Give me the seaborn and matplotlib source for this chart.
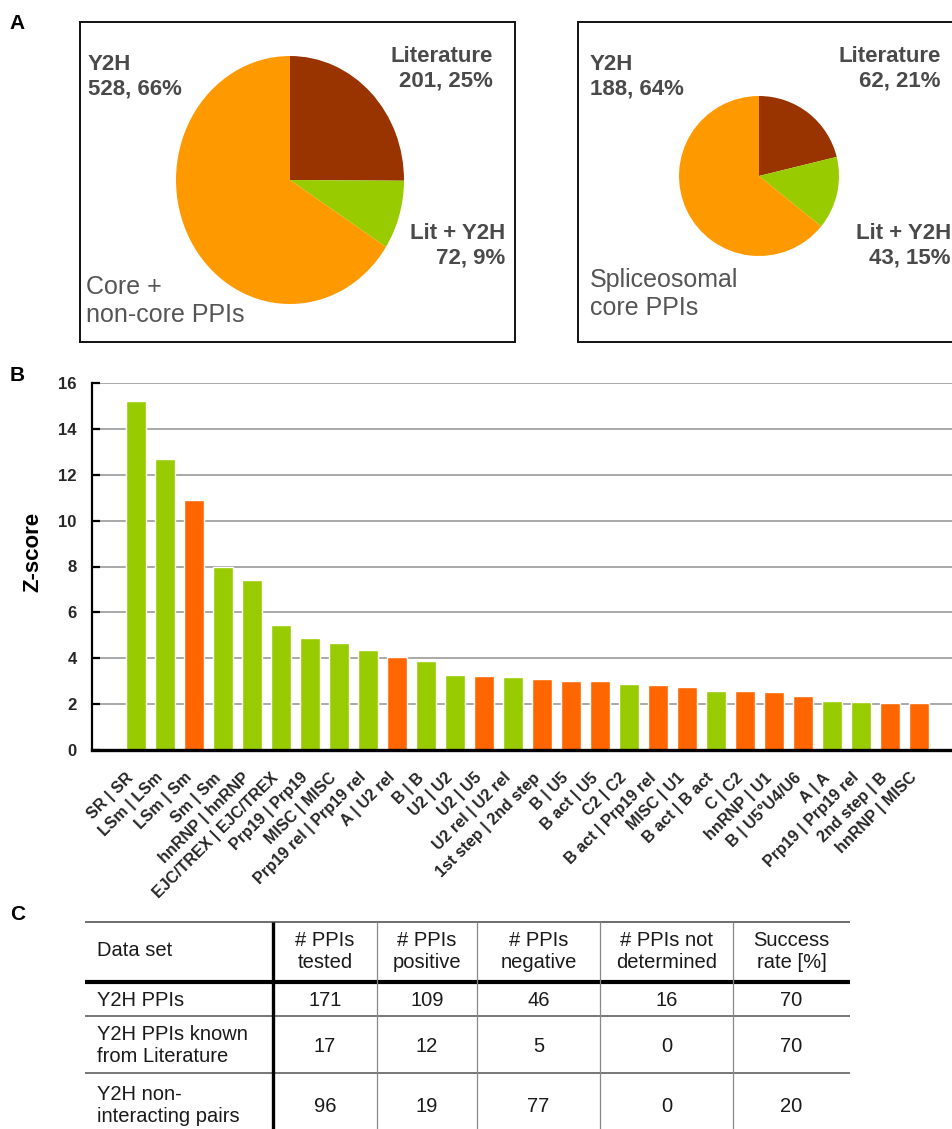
import matplotlib
matplotlib.use("Agg")
import matplotlib.pyplot as plt
import matplotlib.transforms as mtransforms
import seaborn as sns
import pandas as pd

W, H = 953, 1129

# ---- Panel A: origin of the interactions ----
pie_sources = ["Literature", "Lit + Y2H", "Y2H"]
all_counts = [201, 72, 528]
all_pcts = [25, 9, 66]
core_counts = [62, 43, 188]
core_pcts = [21, 15, 64]
source_colors = ["#993300", "#99CC00", "#FF9900"]

# ---- Panel B: enrichment of interactions between complexes ----
pair_labels = [
    "SR | SR", "LSm | LSm", "LSm | Sm", "Sm | Sm", "hnRNP | hnRNP",
    "EJC/TREX | EJC/TREX", "Prp19 | Prp19", "MISC | MISC",
    "Prp19 rel | Prp19 rel", "A | U2 rel", "B | B", "U2 | U2", "U2 | U5",
    "U2 rel | U2 rel", "1st step | 2nd step", "B | U5", "B act | U5",
    "C2 | C2", "B act | Prp19 rel", "MISC | U1", "B act | B act", "C | C2",
    "hnRNP | U1", "B | U5°U4/U6", "A | A", "Prp19 | Prp19 rel",
    "2nd step | B", "hnRNP | MISC",
]
z_scores = [
    15.2, 12.67, 10.89, 7.98, 7.40, 5.44, 4.89, 4.66, 4.36, 4.07, 3.88,
    3.28, 3.23, 3.19, 3.10, 3.01, 3.01, 2.88, 2.84, 2.75, 2.58, 2.58,
    2.53, 2.36, 2.14, 2.10, 2.06, 2.06,
]
pair_groups = [
    "within", "within", "between", "within", "within", "within", "within",
    "within", "within", "between", "within", "within", "between", "within",
    "between", "between", "between", "within", "between", "between",
    "within", "between", "between", "between", "within", "within",
    "between", "between",
]
group_colors = {"within": "#99CC00", "between": "#FF6600"}
z_ticks = [0, 2, 4, 6, 8, 10, 12, 14, 16]

# ---- Panel C: validation summary ----
table_header = ["Data set", "# PPIs\ntested", "# PPIs\npositive",
                "# PPIs\nnegative", "# PPIs not\ndetermined", "Success\nrate [%]"]
row_names = ["Y2H PPIs", "Y2H PPIs known\nfrom Literature",
             "Y2H non-\ninteracting pairs"]
n_tested = [171, 17, 96]
n_positive = [109, 12, 19]
n_negative = [46, 5, 77]
n_undetermined = [16, 0, 0]
success_rate = [70, 70, 20]

sns.set_theme(style="white")
plt.rcParams["font.family"] = ["Liberation Sans", "DejaVu Sans"]

fig = plt.figure(figsize=(W / 100, H / 100), dpi=100)
fig.patch.set_facecolor("white")


def px_axes(x0, y0, x1, y1):
    return fig.add_axes([x0 / W, 1 - y1 / H, (x1 - x0) / W, (y1 - y0) / H])


# Frames around the two pies
for (x0, x1) in [(80, 515), (578, 962)]:
    box = px_axes(x0, 22, x1, 342)
    box.set_xticks([])
    box.set_yticks([])
    box.set_facecolor("white")
    for s in box.spines.values():
        s.set_color("#111111")
        s.set_linewidth(1.4)


def draw_pie(rect, counts):
    pax = px_axes(*rect)
    pax.pie(counts, colors=source_colors, startangle=90, counterclock=False,
            radius=1.0, wedgeprops=dict(linewidth=0))
    pax.set_xlim(-1, 1)
    pax.set_ylim(-1, 1)
    pax.set_aspect("auto")
    pax.axis("off")
    return pax


draw_pie((176, 56, 404, 304), all_counts)
draw_pie((679, 96, 839, 256), core_counts)

# ---- Bar chart ----
df = pd.DataFrame({"pair": pair_labels, "z": z_scores, "group": pair_groups})
ax = px_axes(92, 383, 953, 750)
sns.barplot(data=df, x="pair", y="z", hue="group", palette=group_colors,
            dodge=False, width=0.69, saturation=1, legend=False, ax=ax)
ax.set_xlim(-1.52, 28.17)
ax.set_ylim(0, 16)
ax.set_yticks(z_ticks)
ax.yaxis.grid(True, color="#a8a8a8", linewidth=1.4)
ax.xaxis.grid(False)
ax.set_axisbelow(True)
for side in ["top", "right"]:
    ax.spines[side].set_visible(False)
ax.spines["left"].set_color("black")
ax.spines["left"].set_linewidth(1.6)
ax.spines["bottom"].set_color("black")
ax.spines["bottom"].set_linewidth(2.4)
ax.tick_params(axis="y", direction="in", length=6, width=1.6, color="black",
               pad=11, labelsize=12, left=True)
ax.tick_params(axis="x", length=0, pad=14.4, labelsize=11.5)
for t in ax.get_yticklabels():
    t.set_fontweight("bold")
shift = mtransforms.ScaledTranslation(-0.10, 0, fig.dpi_scale_trans)
for t in ax.get_xticklabels():
    t.set_fontweight("bold")
    t.set_rotation(45)
    t.set_ha("right")
    t.set_va("top")
    t.set_rotation_mode("anchor")
    t.set_transform(t.get_transform() + shift)
ax.set_xlabel("")
ax.set_ylabel("Z-score", fontsize=16, fontweight="bold", color="black")
ax.yaxis.set_label_coords(-0.057, 0.54)

# ---- Overlay in pixel coordinates: annotations and table ----
ov = fig.add_axes([0, 0, 1, 1])
ov.set_xlim(0, W)
ov.set_ylim(H, 0)
ov.axis("off")
ov.patch.set_alpha(0)

for letter, (lx, ly) in zip("ABC", [(9, 14), (10, 366), (10, 905)]):
    ov.text(lx, ly, letter, fontsize=15, fontweight="bold", va="top", ha="left",
            color="black")

lab_kw = dict(fontsize=16, fontweight="bold", color="#4a4a4a", va="top")


def pie_labels(counts, pcts, pos):
    for name, c, p, (x, y, ha) in zip(pie_sources, counts, pcts, pos):
        ov.text(x, y, f"{name}\n{c}, {p}%", ha=ha, multialignment=ha, **lab_kw)


pie_labels(all_counts, all_pcts,
           [(493, 46, "right"), (505, 223, "right"), (88, 54, "left")])
pie_labels(core_counts, core_pcts,
           [(941, 46, "right"), (951, 223, "right"), (590, 54, "left")])

ov.text(86, 275, "Core +\nnon-core PPIs", fontsize=18, color="#555555",
        va="top", ha="left")
ov.text(590, 268, "Spliceosomal\ncore PPIs", fontsize=18, color="#555555",
        va="top", ha="left")

# Table grid
t_left, t_right = 85, 850
t_top, t_bottom = 922, 1129
head_line, row_lines = 982, [1016, 1073]
col_edges = [273, 377, 477, 600, 733, 850]
ov.plot([t_left, t_right], [t_top, t_top], color="#555555", lw=1.2,
        solid_capstyle="butt")
ov.plot([t_left, t_right], [head_line, head_line], color="black", lw=3.0,
        solid_capstyle="butt")
for yl in row_lines:
    ov.plot([t_left, t_right], [yl, yl], color="#777777", lw=1.4,
            solid_capstyle="butt")
ov.plot([col_edges[0], col_edges[0]], [t_top, t_bottom], color="black", lw=2.4,
        solid_capstyle="butt")
for xc in col_edges[1:-1]:
    ov.plot([xc, xc], [t_top, t_bottom], color="#888888", lw=0.9,
            solid_capstyle="butt")

tab_kw = dict(fontsize=14.5, color="#1a1a1a", linespacing=1.2)
col_centers = [(a + b) / 2 for a, b in zip(col_edges[:-1], col_edges[1:])]
header_y = 951
row_y = [1000, 1046, 1106]
ov.text(97, header_y, table_header[0], ha="left", va="center", **tab_kw)
for xc, txt in zip(col_centers, table_header[1:]):
    ov.text(xc, header_y, txt, ha="center", va="center", multialignment="center",
            **tab_kw)
for i, name in enumerate(row_names):
    ov.text(97, row_y[i], name, ha="left", va="center", **tab_kw)
    vals = [n_tested[i], n_positive[i], n_negative[i], n_undetermined[i],
            success_rate[i]]
    for xc, v in zip(col_centers, vals):
        ov.text(xc, row_y[i], str(v), ha="center", va="center", **tab_kw)

fig.savefig("out.png", dpi=100, facecolor="white")
